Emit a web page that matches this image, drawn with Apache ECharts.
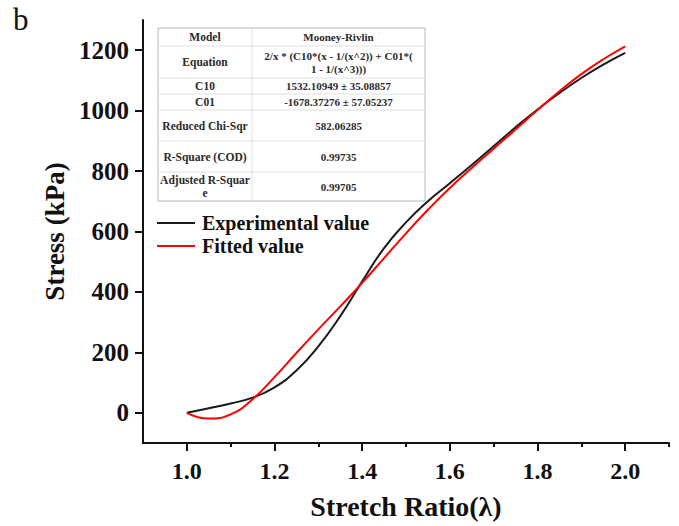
<!DOCTYPE html>
<html>
<head>
<meta charset="utf-8">
<script src="https://cdn.jsdelivr.net/npm/echarts@6/dist/echarts.min.js"></script>
<style>html,body{margin:0;padding:0;background:#fff;}#c{width:679px;height:526px;}</style>
</head>
<body>
<div id="c"></div>
<script>
// ---- data ----
const stretch = [1.0, 1.05, 1.1, 1.15, 1.2, 1.25, 1.3, 1.35, 1.4, 1.45, 1.5, 1.55, 1.6, 1.65, 1.7, 1.75, 1.8, 1.85, 1.9, 1.95, 2.0];
const experimental = [0, 15, 31, 50, 84, 140, 220, 320, 435, 545, 630, 700, 760, 820, 882, 945, 1004, 1058, 1108, 1152, 1191];
const fitted = [0, -19, -5, 45, 118, 198, 276, 352, 430, 512, 594, 672, 744, 810, 874, 938, 1002, 1064, 1121, 1170, 1213];
const xMajorTicks = [1.0, 1.2, 1.4, 1.6, 1.8, 2.0];
const xMinorTicks = [1.1, 1.3, 1.5, 1.7, 1.9, 2.1];
const yTicks = [0, 200, 400, 600, 800, 1000, 1200];
const seriesNames = ['Experimental value', 'Fitted value'];
const tableRows = [
  ['Model', 'Mooney-Rivlin'],
  ['Equation', '2/x * (C10*(x - 1/(x^2)) + C01*(\n1 - 1/(x^3)))'],
  ['C10', '1532.10949 ± 35.08857'],
  ['C01', '-1678.37276 ± 57.05237'],
  ['Reduced Chi-Sqr', '582.06285'],
  ['R-Square (COD)', '0.99735'],
  ['Adjusted R-Squar\ne', '0.99705']
];
const tableRowLines = [28, 46, 78, 94, 110, 141, 172, 201];

const FONT = '"Liberation Serif", "Times New Roman", serif';
const chart = echarts.init(document.getElementById('c'), null, {renderer: 'svg'});

// table graphic
const tX0 = 158, tX1 = 425, tXm = 252;
const tableEls = [];
tableEls.push({type: 'rect', shape: {x: tX0, y: tableRowLines[0], width: tX1 - tX0, height: tableRowLines[tableRowLines.length - 1] - tableRowLines[0]},
  style: {fill: '#fff', stroke: '#b8b8b8', lineWidth: 1}});
for (let i = 1; i < tableRowLines.length - 1; i++) {
  tableEls.push({type: 'line', shape: {x1: tX0, y1: tableRowLines[i], x2: tX1, y2: tableRowLines[i]}, style: {stroke: '#e0e0e0', lineWidth: 1}});
}
tableEls.push({type: 'line', shape: {x1: tXm, y1: tableRowLines[0], x2: tXm, y2: tableRowLines[tableRowLines.length - 1]}, style: {stroke: '#e0e0e0', lineWidth: 1}});
tableRows.forEach((r, i) => {
  const yc = (tableRowLines[i] + tableRowLines[i + 1]) / 2;
  tableEls.push({type: 'text', x: (tX0 + tXm) / 2, y: yc, style: {text: r[0], font: 'bold 11.5px ' + FONT, fill: '#2a2a2a', align: 'center', verticalAlign: 'middle', lineHeight: 13}});
  tableEls.push({type: 'text', x: (tXm + tX1) / 2, y: yc, style: {text: r[1], font: 'bold 11px ' + FONT, fill: '#2a2a2a', align: 'center', verticalAlign: 'middle', lineHeight: 13}});
});

const axisTextStyle = {fontFamily: FONT, fontWeight: 'bold', fontSize: 24, color: '#111'};

chart.setOption({
  animation: false,
  backgroundColor: '#fff',
  grid: {left: 143, right: 10, top: 20, bottom: 83},
  legend: {
    orient: 'vertical', left: 152, top: 208, itemWidth: 38, itemHeight: 2, itemGap: 3,
    icon: 'rect',
    data: seriesNames,
    textStyle: {fontFamily: FONT, fontWeight: 'bold', fontSize: 20, color: '#111', padding: [0, 0, 0, 2]}
  },
  xAxis: [{
    type: 'value', min: 0.9, max: 2.1, position: 'bottom',
    name: 'Stretch Ratio(λ)', nameLocation: 'middle', nameGap: 49,
    nameTextStyle: {fontFamily: FONT, fontWeight: 'bold', fontSize: 28, color: '#111'},
    axisLine: {show: true, onZero: false, lineStyle: {color: '#111', width: 2}},
    axisTick: {show: true, length: 8, lineStyle: {color: '#111', width: 2}, customValues: xMajorTicks},
    axisLabel: Object.assign({margin: 16, customValues: xMajorTicks, formatter: v => v.toFixed(1)}, axisTextStyle),
    splitLine: {show: false}
  }, {
    type: 'value', min: 0.9, max: 2.1, position: 'bottom',
    axisLine: {show: false, onZero: false},
    axisTick: {show: true, length: 4, lineStyle: {color: '#111', width: 2}, customValues: xMinorTicks},
    axisLabel: {show: false},
    splitLine: {show: false}
  }],
  yAxis: {
    type: 'value', min: -100, max: 1300,
    name: 'Stress (kPa)', nameLocation: 'middle', nameGap: 59,
    nameTextStyle: {fontFamily: FONT, fontWeight: 'bold', fontSize: 27, color: '#111'},
    axisLine: {show: true, onZero: false, lineStyle: {color: '#111', width: 2}},
    axisTick: {show: true, length: 8, lineStyle: {color: '#111', width: 2}, customValues: yTicks},
    axisLabel: Object.assign({margin: 14, customValues: yTicks, formatter: v => String(v)}, axisTextStyle, {fontSize: 25}),
    splitLine: {show: false}
  },
  graphic: [
    {type: 'text', left: 13, top: 4, style: {text: 'b', font: '31px ' + FONT, fill: '#111'}},
    {type: 'group', children: tableEls}
  ],
  series: [{
    name: seriesNames[0], type: 'line', symbol: 'none', smooth: 0.5,
    lineStyle: {color: '#1a1a1a', width: 2}, itemStyle: {color: '#1a1a1a'},
    data: stretch.map((x, i) => [x, experimental[i]])
  }, {
    name: seriesNames[1], type: 'line', symbol: 'none', smooth: 0.5,
    lineStyle: {color: '#ff0000', width: 2}, itemStyle: {color: '#ff0000'},
    data: stretch.map((x, i) => [x, fitted[i]])
  }]
});
</script>
</body>
</html>
